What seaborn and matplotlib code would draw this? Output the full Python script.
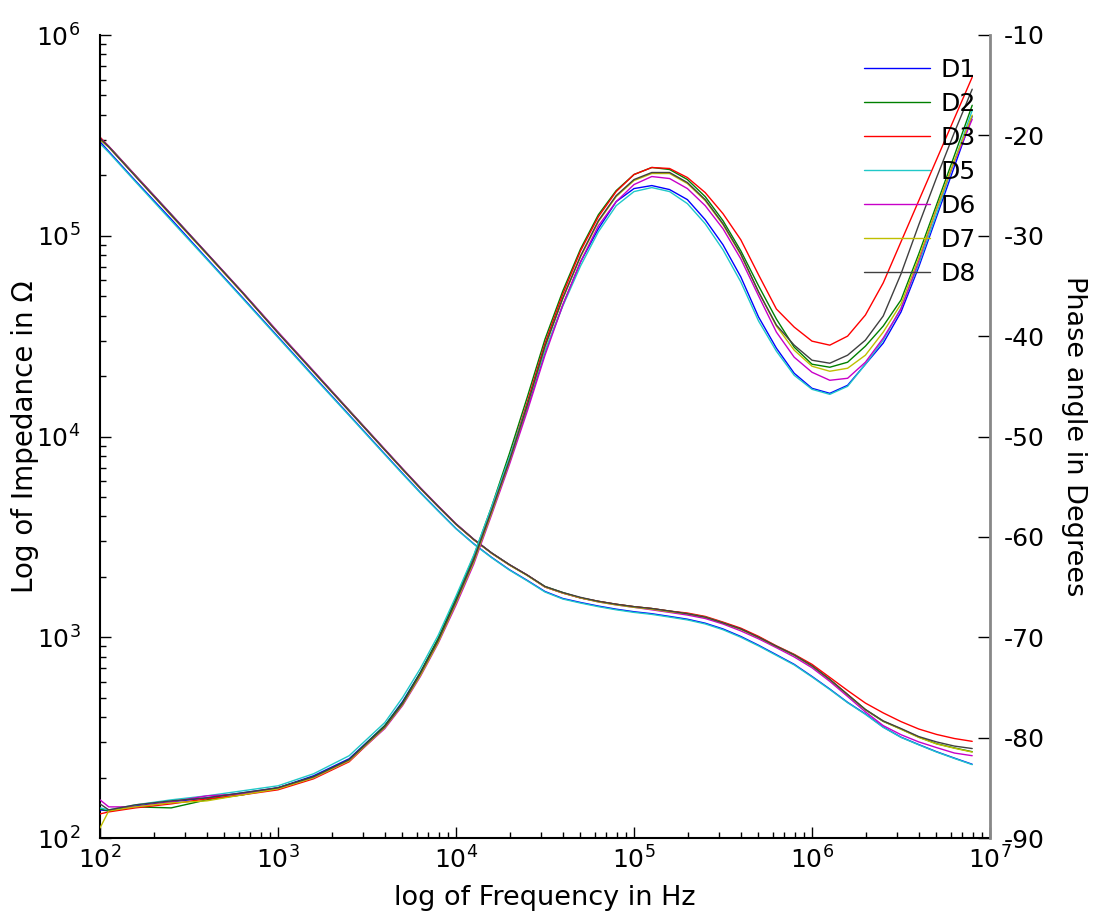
import matplotlib
matplotlib.use("Agg")
import pandas as pd
import matplotlib.pyplot as plt
import seaborn as sns

# Frequencies (Hz), shared by every device
freq_hz = [100, 112, 158, 251, 398, 631, 1000, 1585, 2512, 3981,
           5012, 6310, 7943, 10000, 12589, 15849, 19953, 25119, 31623, 39811,
           50119, 63096, 79433, 100000, 125893, 158489, 199526, 251189, 316228, 398107,
           501187, 630957, 794328, 1000000, 1258925, 1584893, 1995262, 2511886, 3162278, 3981072,
           5011872, 6309573, 7943282]

devices = ["D1", "D2", "D3", "D5", "D6", "D7", "D8"]
colors = {"D1": "#0000ff", "D2": "#008000", "D3": "#ff0000", "D5": "#20c8c8",
          "D6": "#c800c8", "D7": "#bfbf00", "D8": "#404040"}

# |Z| in ohm
z_d1 = [294000, 263000, 188000, 121000, 77100, 49300, 31400, 20000, 12800, 8180,
        6550, 5260, 4270, 3480, 2920, 2500, 2170, 1920, 1690, 1560,
        1490, 1430, 1380, 1340, 1310, 1270, 1230, 1175, 1100, 1009,
        912, 818, 733, 638, 552, 474, 415, 357, 318, 292,
        269, 250, 233]
z_d2 = [308000, 279000, 200000, 128000, 81800, 52300, 33000, 21100, 13500, 8600,
        6880, 5530, 4490, 3660, 3070, 2630, 2300, 2040, 1790, 1670,
        1570, 1510, 1460, 1420, 1390, 1350, 1310, 1260, 1180, 1100,
        1000, 900, 815, 718, 615, 517, 435, 381, 349, 318,
        295, 281, 269]
z_d3 = [310000, 278000, 199000, 127000, 81300, 52000, 32900, 21000, 13400, 8570,
        6860, 5510, 4470, 3650, 3060, 2620, 2290, 2040, 1780, 1660,
        1570, 1510, 1460, 1420, 1390, 1350, 1320, 1270, 1190, 1110,
        1010, 906, 822, 733, 631, 543, 470, 420, 380, 349,
        328, 313, 303]
z_d5 = [288000, 260000, 186000, 119000, 76300, 48800, 31100, 19800, 12700, 8120,
        6500, 5230, 4250, 3470, 2910, 2490, 2160, 1910, 1680, 1550,
        1480, 1420, 1370, 1330, 1300, 1260, 1220, 1165, 1090, 1000,
        905, 812, 728, 634, 549, 472, 413, 356, 317, 291,
        268, 249, 232]
z_d6 = [306000, 279000, 200000, 128000, 82000, 52500, 33200, 21200, 13500, 8650,
        6920, 5560, 4510, 3680, 3080, 2630, 2300, 2040, 1780, 1660,
        1570, 1500, 1450, 1410, 1370, 1330, 1290, 1240, 1164, 1076,
        982, 887, 798, 705, 603, 507, 425, 363, 327, 301,
        282, 265, 257]
z_d7 = [300000, 276000, 198000, 126000, 81000, 51900, 32800, 20900, 13400, 8560,
        6850, 5500, 4470, 3650, 3060, 2620, 2290, 2030, 1780, 1660,
        1570, 1500, 1450, 1410, 1380, 1340, 1310, 1260, 1180, 1095,
        998, 900, 816, 719, 616, 518, 436, 382, 348, 317,
        294, 280, 268]
z_d8 = [305000, 277000, 198000, 127000, 81500, 52100, 32800, 21000, 13400, 8580,
        6870, 5520, 4480, 3660, 3070, 2630, 2300, 2040, 1790, 1670,
        1580, 1510, 1460, 1420, 1390, 1350, 1310, 1260, 1180, 1100,
        1000, 902, 817, 721, 617, 519, 437, 383, 351, 320,
        301, 287, 279]

# phase angle in degrees
ph_d1 = [-87.2, -87.3, -86.8, -86.4, -86.0, -85.5, -85.0, -83.8, -82.1, -78.8,
         -76.4, -73.5, -70.2, -66.3, -62.2, -57.4, -52.5, -47.2, -41.6, -36.9,
         -32.6, -29.3, -26.6, -25.3, -25.0, -25.4, -26.4, -28.4, -30.9, -34.1,
         -38.1, -41.2, -43.7, -45.2, -45.7, -44.9, -42.8, -40.7, -37.6, -33.1,
         -28.1, -23.1, -18.1]
ph_d2 = [-87.1, -87.3, -86.9, -87.0, -86.2, -85.7, -85.0, -83.9, -82.2, -78.8,
         -76.5, -73.5, -70.1, -66.1, -61.9, -57.0, -51.7, -46.1, -40.3, -35.5,
         -31.3, -27.9, -25.5, -23.9, -23.2, -23.4, -24.4, -26.1, -28.5, -31.5,
         -35.0, -38.3, -41.1, -42.8, -43.1, -42.6, -41.0, -39.0, -36.4, -31.8,
         -26.9, -22.0, -17.0]
ph_d3 = [-87.6, -87.4, -87.0, -86.6, -86.1, -85.7, -85.2, -84.1, -82.4, -79.0,
         -76.7, -73.7, -70.4, -66.5, -62.3, -57.4, -52.2, -46.6, -40.7, -35.8,
         -31.5, -28.1, -25.6, -23.9, -23.2, -23.3, -24.2, -25.7, -27.8, -30.4,
         -33.9, -37.3, -39.1, -40.5, -40.9, -40.0, -37.9, -34.7, -30.6, -26.5,
         -22.4, -18.3, -14.2]
ph_d5 = [-87.0, -87.2, -86.7, -86.2, -85.8, -85.3, -84.8, -83.6, -81.8, -78.5,
         -76.0, -73.1, -69.8, -65.9, -61.8, -57.0, -52.1, -46.9, -41.5, -37.0,
         -33.0, -29.6, -27.0, -25.6, -25.2, -25.6, -26.8, -28.8, -31.4, -34.6,
         -38.5, -41.5, -43.9, -45.3, -45.8, -45.0, -42.8, -40.4, -37.2, -32.8,
         -27.8, -22.6, -17.5]
ph_d6 = [-86.2, -86.9, -86.9, -86.4, -85.8, -85.6, -85.0, -84.0, -82.3, -79.1,
         -76.8, -73.9, -70.6, -66.8, -62.7, -57.8, -52.8, -47.5, -41.9, -36.9,
         -32.6, -29.0, -26.6, -24.9, -24.1, -24.3, -25.3, -27.0, -29.3, -32.3,
         -36.0, -39.6, -42.1, -43.6, -44.4, -44.2, -42.6, -40.2, -37.3, -32.5,
         -27.3, -22.6, -18.4]
ph_d7 = [-89.0, -87.3, -86.9, -86.5, -86.3, -85.7, -85.1, -84.0, -82.3, -79.0,
         -76.7, -73.8, -70.5, -66.6, -62.5, -57.6, -52.5, -47.0, -41.1, -36.3,
         -32.1, -28.6, -26.1, -24.5, -23.8, -23.8, -24.8, -26.5, -28.9, -31.9,
         -35.6, -39.0, -41.4, -43.0, -43.5, -43.2, -41.9, -39.6, -36.8, -32.2,
         -27.3, -22.5, -18.0]
ph_d8 = [-86.6, -87.2, -86.7, -86.3, -86.0, -85.5, -85.0, -83.9, -82.2, -78.9,
         -76.6, -73.6, -70.3, -66.4, -62.3, -57.4, -52.4, -46.9, -41.0, -36.2,
         -32.0, -28.5, -26.0, -24.4, -23.7, -23.7, -24.7, -26.4, -28.8, -31.8,
         -35.6, -38.9, -40.9, -42.4, -42.7, -41.9, -40.4, -38.0, -33.8, -28.9,
         -24.2, -19.7, -15.4]

impedance = {"D1": z_d1, "D2": z_d2, "D3": z_d3, "D5": z_d5,
             "D6": z_d6, "D7": z_d7, "D8": z_d8}
phase = {"D1": ph_d1, "D2": ph_d2, "D3": ph_d3, "D5": ph_d5,
         "D6": ph_d6, "D7": ph_d7, "D8": ph_d8}

rows = []
for dev in devices:
    for f, z, p in zip(freq_hz, impedance[dev], phase[dev]):
        rows.append({"device": dev, "freq": f, "impedance": z, "phase": p})
df = pd.DataFrame(rows)

sns.set_style("ticks")
plt.rcParams["font.family"] = ["DejaVu Sans"]
plt.rcParams["axes.unicode_minus"] = False
plt.rcParams["text.color"] = "black"
plt.rcParams["axes.labelcolor"] = "black"
plt.rcParams["xtick.color"] = "black"
plt.rcParams["ytick.color"] = "black"

fig = plt.figure(figsize=(10.94, 9.17), dpi=100)
ax = fig.add_axes([100 / 1094, 79 / 917, 890 / 1094, 803 / 917])
ax.set_xscale("log")
ax.set_yscale("log")

sns.lineplot(data=df, x="freq", y="impedance", hue="device", hue_order=devices,
             palette=colors, linewidth=1, legend=False, ax=ax)
ax.set_xlim(100, 1e7)
ax.set_ylim(100, 1e6)

ax2 = ax.twinx()
sns.lineplot(data=df, x="freq", y="phase", hue="device", hue_order=devices,
             palette=colors, linewidth=1, legend=False, ax=ax2)
ax2.set_ylim(-90, -10)
ax2.set_yticks(list(range(-90, -9, 10)))

# spines
for a in (ax, ax2):
    a.spines["top"].set_visible(False)
ax.spines["right"].set_visible(False)
ax2.spines["left"].set_visible(False)
ax2.spines["bottom"].set_visible(False)
ax.spines["left"].set_linewidth(1.5)
ax.spines["bottom"].set_linewidth(1.5)
ax.spines["left"].set_color("black")
ax.spines["bottom"].set_color("black")
ax2.spines["right"].set_color("#888888")
ax2.spines["right"].set_linewidth(2)

ax.tick_params(axis="both", which="major", direction="in", length=8, width=1,
               labelsize=18, color="black")
ax.tick_params(axis="both", which="minor", direction="in", length=4, width=1)
ax.tick_params(axis="x", which="major", pad=6)
ax.tick_params(axis="y", which="major", pad=14)
ax2.tick_params(axis="y", direction="in", length=9, width=1, labelsize=18, pad=10)

ax.set_xlabel("log of Frequency in Hz", fontsize=19.5, labelpad=8)
ax.set_ylabel("Log of Impedance in Ω", fontsize=20, labelpad=-2)
ax2.set_ylabel("Phase angle in Degrees", fontsize=19.5, rotation=270, labelpad=30)

handles = ax2.get_lines()[:len(devices)]
ax2.legend(handles, devices, loc="upper left", frameon=False, fontsize=18,
           bbox_to_anchor=(864 / 1094, 1 - 58 / 917), bbox_transform=fig.transFigure,
           borderpad=0, borderaxespad=0, handlelength=2.65, handletextpad=0.4,
           labelspacing=0.4)

fig.savefig("out.png", dpi=100)
